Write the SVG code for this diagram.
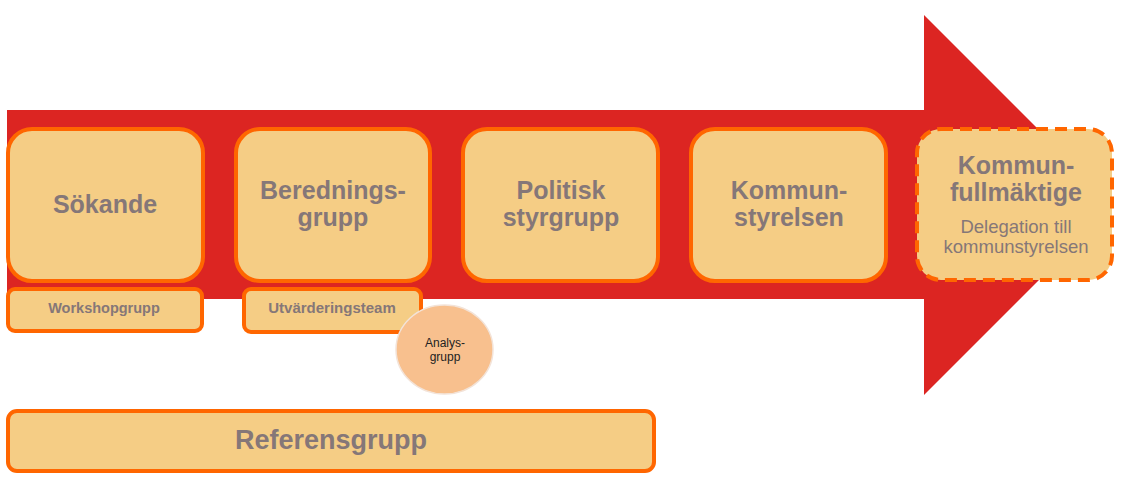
<svg xmlns="http://www.w3.org/2000/svg" width="1123" height="484" viewBox="0 0 1123 484">
<style>
.box{fill:#F5CD85;stroke:#FF6600;stroke-width:4}
.dash{fill:#F5CD85;stroke:#FF6600;stroke-width:4;stroke-dasharray:12 7}
.t{font-family:"Liberation Sans",Arial,sans-serif;font-weight:bold;fill:#857778;text-anchor:middle}
.r{font-family:"Liberation Sans",Arial,sans-serif;fill:#857778;text-anchor:middle}
</style>
<rect width="1123" height="484" fill="#FFFFFF"/>
<g id="arrow">
<polygon points="7,110 924,110 924,15 1114,205 924,395 924,299 7,299" fill="#DC2522"/>
</g>
<g id="connectors"></g>
<g id="sokande">
<rect class="box" x="8" y="129" width="195" height="152" rx="24"/>
<text class="t" x="105" y="213" font-size="25">Sökande</text>
</g>
<g id="beredningsgrupp">
<rect class="box" x="236" y="129" width="194" height="152" rx="24"/>
<text class="t" x="333" y="199" font-size="25">Berednings-</text>
<text class="t" x="333" y="226" font-size="25">grupp</text>
</g>
<g id="politisk">
<rect class="box" x="463" y="129" width="195" height="152" rx="24"/>
<text class="t" x="561" y="199" font-size="25">Politisk</text>
<text class="t" x="561" y="226" font-size="25">styrgrupp</text>
</g>
<g id="kommunstyrelsen">
<rect class="box" x="691" y="129" width="195" height="152" rx="24"/>
<text class="t" x="789" y="199" font-size="25">Kommun-</text>
<text class="t" x="789" y="226" font-size="25">styrelsen</text>
</g>
<g id="kommunfullmaktige">
<rect class="dash" x="917" y="129" width="195" height="151" rx="24"/>
<text class="t" x="1016" y="174" font-size="25">Kommun-</text>
<text class="t" x="1016" y="201" font-size="25">fullmäktige</text>
<text class="r" x="1016" y="233" font-size="18.5">Delegation till</text>
<text class="r" x="1016" y="253" font-size="18.5">kommunstyrelsen</text>
</g>
<g id="workshopgrupp">
<rect class="box" x="8" y="289" width="194" height="42" rx="7"/>
<text class="t" x="104" y="313" font-size="14.5">Workshopgrupp</text>
</g>
<g id="utvarderingsteam">
<rect class="box" x="244" y="289" width="177" height="43" rx="7"/>
<text class="t" x="332" y="313" font-size="15">Utvärderingsteam</text>
</g>
<g id="analysgrupp">
<ellipse cx="444.5" cy="349.5" rx="48.5" ry="44.5" fill="#F8C08E" stroke="#F3E3D8" stroke-width="1.5"/>
<text x="445" y="347" font-size="12" font-family="'Liberation Sans',Arial,sans-serif" fill="#222" text-anchor="middle">Analys-</text>
<text x="445" y="361" font-size="12" font-family="'Liberation Sans',Arial,sans-serif" fill="#222" text-anchor="middle">grupp</text>
</g>
<g id="referensgrupp">
<rect class="box" x="8" y="411" width="646" height="60" rx="9"/>
<text class="t" x="331" y="449" font-size="27">Referensgrupp</text>
</g>
</svg>
